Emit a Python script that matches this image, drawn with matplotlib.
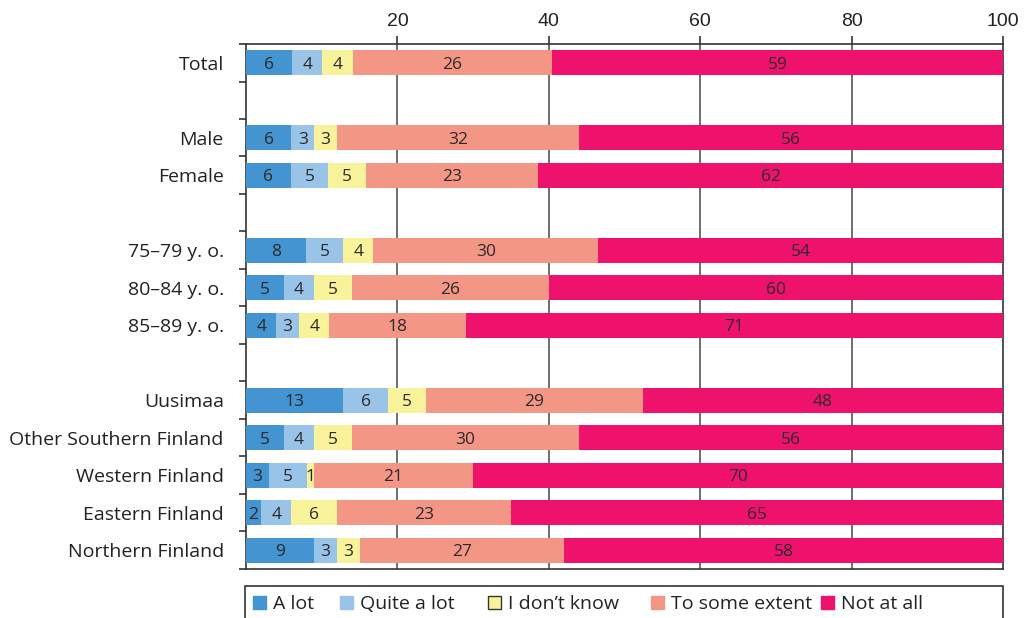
import matplotlib.pyplot as plt
import numpy as np
from matplotlib.patches import Patch, Rectangle

categories = ['Total', 'Male', 'Female', '75–79 y. o.', '80–84 y. o.', '85–89 y. o.',
              'Uusimaa', 'Other Southern Finland', 'Western Finland',
              'Eastern Finland', 'Northern Finland']
# row slots (gaps between groups)
slots = [0, 2, 3, 5, 6, 7, 9, 10, 11, 12, 13]

a_lot = [6, 6, 6, 8, 5, 4, 13, 5, 3, 2, 9]
quite_a_lot = [4, 3, 5, 5, 4, 3, 6, 4, 5, 4, 3]
dont_know = [4, 3, 5, 4, 5, 4, 5, 5, 1, 6, 3]
some_extent = [26, 32, 23, 30, 26, 18, 29, 30, 21, 23, 27]
not_at_all = [59, 56, 62, 54, 60, 71, 48, 56, 70, 65, 58]

series = ['A lot', 'Quite a lot', 'I don’t know', 'To some extent', 'Not at all']
colors = ['#4394d0', '#9ac3e8', '#f8f39a', '#f49685', '#ee126d']

plt.rcParams['font.family'] = ['Open Sans', 'DejaVu Sans']

data = np.array([a_lot, quite_a_lot, dont_know, some_extent, not_at_all], dtype=float)
shares = data / data.sum(axis=0) * 100

fig = plt.figure(figsize=(10.25, 6.18), dpi=100)
ax = fig.add_axes([0.24, 0.0793, 0.7385, 0.8495])

left = np.zeros(len(categories))
for k in range(len(series)):
    ax.barh(slots, shares[k], left=left, height=0.67, color=colors[k], zorder=3)
    for y, l, w, v in zip(slots, left, shares[k], data[k]):
        ax.text(l + w / 2, y + 0.05, '%d' % v, ha='center', va='center',
                fontsize=12.5, color='#2a2a2a', zorder=4)
    left += shares[k]

ax.set_xlim(0, 100)
ax.set_ylim(13.48, -0.48)
ax.xaxis.tick_top()
ax.set_xticks([20, 40, 60, 80, 100])
ax.set_xticklabels(['20', '40', '60', '80', '100'], family='Liberation Sans', fontsize=14,
                   color='#222222')
ax.tick_params(axis='x', length=6, width=1.2, color='#333333', pad=4)
for x in [20, 40, 60, 80]:
    ax.axvline(x, color='#555555', lw=1.2, zorder=1)

ax.set_yticks(slots)
ax.set_yticklabels(categories, fontsize=14, color='#222222')
ax.tick_params(axis='y', length=0, pad=16)
ax.set_yticks(np.arange(-0.5, 14, 1), minor=True)
ax.tick_params(axis='y', which='minor', length=5, width=1.2, color='#333333')

for s in ['top', 'bottom', 'left', 'right']:
    ax.spines[s].set_color('#333333')
    ax.spines[s].set_linewidth(1.2)

# legend frame spanning the plot width, entries placed individually
W, H = 1025.0, 618.0
fig.add_artist(Rectangle((245 / W, -0.02), (1003 - 245) / W, 1 - 586 / H + 0.02,
                         transform=fig.transFigure, fill=False, edgecolor='#333333',
                         lw=1.2))
legend_x = [253, 340, 488, 651, 821]
for i, (lab, c, x) in enumerate(zip(series, colors, legend_x)):
    h = Patch(facecolor=c, edgecolor=('#333333' if i == 2 else c), lw=1)
    leg = fig.legend([h], [lab], loc='center left', bbox_to_anchor=(x / W, 1 - 604 / H),
                     fontsize=14, frameon=False, handlelength=0.65, handleheight=0.65,
                     handletextpad=0.4, borderpad=0, borderaxespad=0)
    for t in leg.get_texts():
        t.set_color('#222222')

fig.savefig('out.png', dpi=100)
